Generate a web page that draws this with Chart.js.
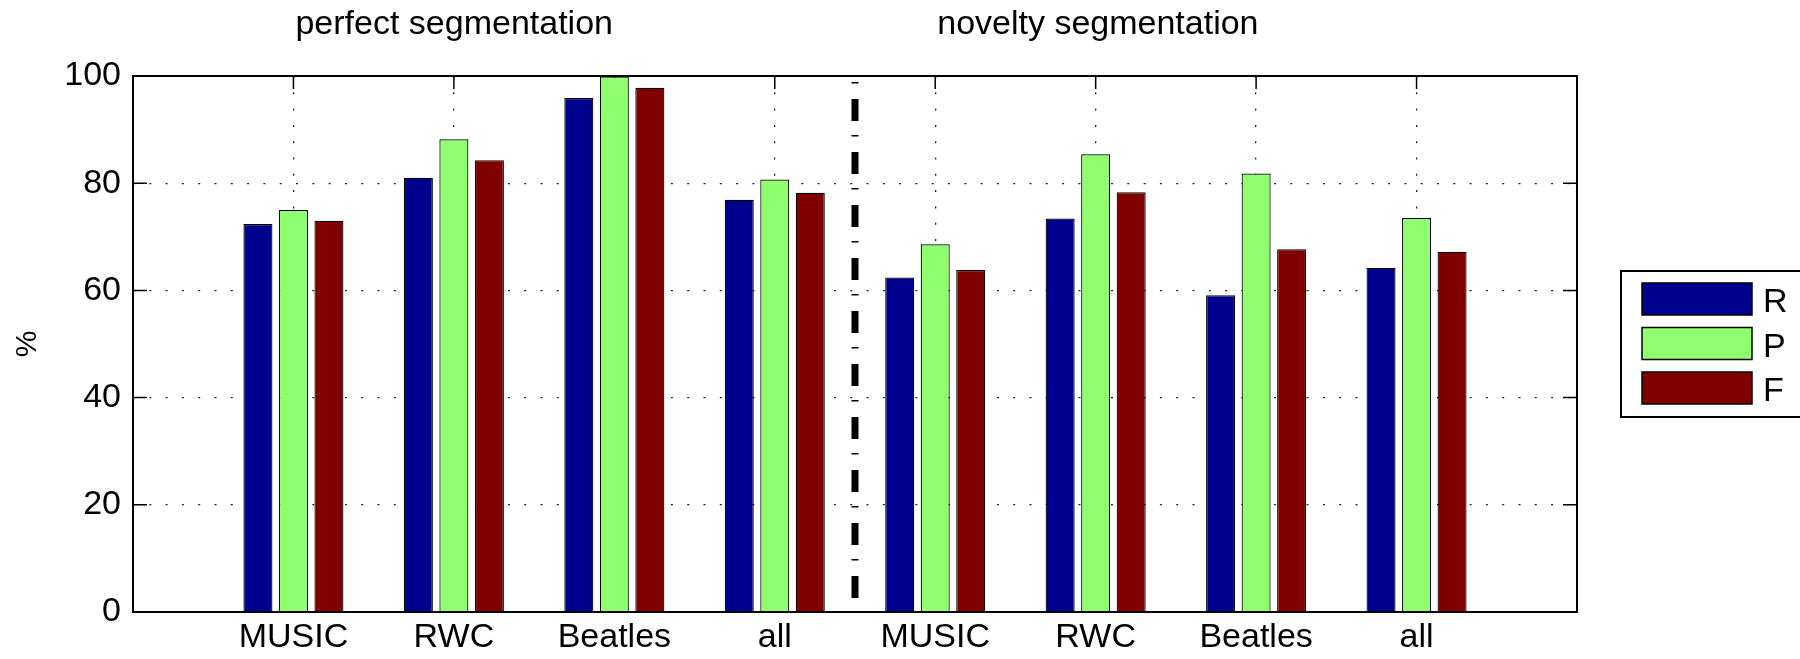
<!DOCTYPE html>
<html>
<head>
<meta charset="utf-8">
<script src="https://cdn.jsdelivr.net/npm/chart.js@4/dist/chart.umd.min.js"></script>
<style>
  body { margin: 0; background: #fff; }
  #wrap { width: 1800px; height: 659px; }
</style>
</head>
<body>
<div id="wrap"><canvas id="chart" width="1800" height="659"></canvas></div>
<script>
// categories (empty slots at both ends keep the outer margins of the axis)
const categories = ['', 'MUSIC', 'RWC', 'Beatles', 'all', 'MUSIC', 'RWC', 'Beatles', 'all', '']
const seriesNames = ['R', 'P', 'F']
const valuesR = [null, 72.4, 81.0, 95.9, 76.9, 62.4, 73.4, 59.1, 64.2, null]
const valuesP = [null, 75.0, 88.2, 99.9, 80.7, 68.6, 85.4, 81.8, 73.5, null]
const valuesF = [null, 73.0, 84.3, 97.8, 78.2, 63.8, 78.3, 67.7, 67.2, null]
const yTicks = [0, 20, 40, 60, 80, 100]
const groupTitles = ['perfect segmentation', 'novelty segmentation']
const groupTitleAt = [1, 5]
const dividerAt = 4.5
const yLabel = '%'

const colors = ['#00008F', '#8FFF70', '#800000']
const font = '"Liberation Sans", Arial, Helvetica, sans-serif'

const overlay = {
    id: 'overlay',
    beforeDatasetsDraw(chart) {
        const { ctx, chartArea: a, scales: { x, y } } = chart
        ctx.save()
        ctx.strokeStyle = '#000'
        ctx.lineWidth = 1.5
        ctx.beginPath()
        yTicks.forEach(v => {
            const py = y.getPixelForValue(v)
            ctx.moveTo(a.left, py); ctx.lineTo(a.left + 14, py)
            ctx.moveTo(a.right, py); ctx.lineTo(a.right - 14, py)
        })
        categories.forEach((c, i) => {
            if (!c) return
            const px = x.getPixelForValue(i)
            ctx.moveTo(px, a.top); ctx.lineTo(px, a.top + 13)
            ctx.moveTo(px, a.bottom); ctx.lineTo(px, a.bottom - 13)
        })
        ctx.stroke()
        ctx.restore()
    },
    afterDatasetsDraw(chart) {
        const { ctx, chartArea: a, scales: { x } } = chart
        ctx.save()
        // axes box
        ctx.strokeStyle = '#000'
        ctx.lineWidth = 2
        ctx.strokeRect(a.left, a.top, a.right - a.left, a.bottom - a.top)

        // dash-dot divider between the two groups
        const dx = x.getPixelForValue(dividerAt)
        ctx.lineWidth = 7
        ctx.setLineDash([22, 14, 1.5, 15.5])
        ctx.lineDashOffset = 30
        ctx.beginPath()
        ctx.moveTo(dx, a.top)
        ctx.lineTo(dx, a.bottom)
        ctx.stroke()
        ctx.setLineDash([])

        // group titles
        ctx.fillStyle = '#000'
        ctx.font = '34px ' + font
        ctx.textAlign = 'left'
        ctx.textBaseline = 'alphabetic'
        groupTitles.forEach((t, i) => {
            ctx.fillText(t, x.getPixelForValue(groupTitleAt[i]) + 2, 34)
        })

        // y axis label
        ctx.save()
        ctx.translate(36, (a.top + a.bottom) / 2)
        ctx.rotate(-Math.PI / 2)
        ctx.textAlign = 'center'
        ctx.font = '30px ' + font
        ctx.fillText(yLabel, 0, 0)
        ctx.restore()

        // legend
        ctx.lineWidth = 2
        ctx.fillStyle = '#fff'
        ctx.fillRect(1621, 271, 190, 146)
        ctx.strokeRect(1621, 271, 190, 146)
        chart.data.datasets.forEach((ds, i) => {
            const top = 283 + i * 44.5
            ctx.fillStyle = ds.backgroundColor
            ctx.fillRect(1642, top, 110, 32)
            ctx.lineWidth = 1.5
            ctx.strokeRect(1642, top, 110, 32)
            ctx.fillStyle = '#000'
            ctx.font = '34px ' + font
            ctx.fillText(ds.label, 1763, top + 29)
        })
        ctx.restore()
    }
}

// hide the grid lines that fall on the box edges
const gridHide = ctx => (ctx.index === 0 || ctx.index === ctx.scale.ticks.length - 1) ? 'rgba(0,0,0,0)' : '#222'

new Chart(document.getElementById('chart'), {
    type: 'bar',
    data: {
        labels: categories,
        datasets: [valuesR, valuesP, valuesF].map((vals, i) => ({
            label: seriesNames[i],
            data: vals,
            backgroundColor: colors[i],
            borderColor: '#000',
            borderWidth: 1.2,
            borderSkipped: 'start',
            categoryPercentage: 0.664,
            barPercentage: 0.817
        }))
    },
    options: {
        responsive: false,
        animation: false,
        devicePixelRatio: 1,
        layout: { padding: { left: 0, top: 76, right: 223, bottom: 0 } },
        plugins: { legend: { display: false }, tooltip: { enabled: false } },
        scales: {
            x: {
                type: 'category',
                offset: false,
                grid: {
                    offset: false,
                    color: gridHide,
                    lineWidth: 1.3,
                    drawTicks: false
                },
                border: { display: false, dash: [2, 14.3] },
                ticks: {
                    color: '#000',
                    font: { family: font, size: 34 },
                    padding: 5,
                    maxRotation: 0,
                    autoSkip: false
                },
                afterFit: s => { s.height = 47 }
            },
            y: {
                min: 0,
                max: 100,
                grid: {
                    color: gridHide,
                    lineWidth: 1.3,
                    drawTicks: false
                },
                border: { display: false, dash: [2, 14.3] },
                ticks: {
                    stepSize: 20,
                    color: '#000',
                    font: { family: font, size: 34 },
                    padding: 12
                },
                afterFit: s => { s.width = 133 }
            }
        }
    },
    plugins: [overlay]
})
</script>
</body>
</html>
